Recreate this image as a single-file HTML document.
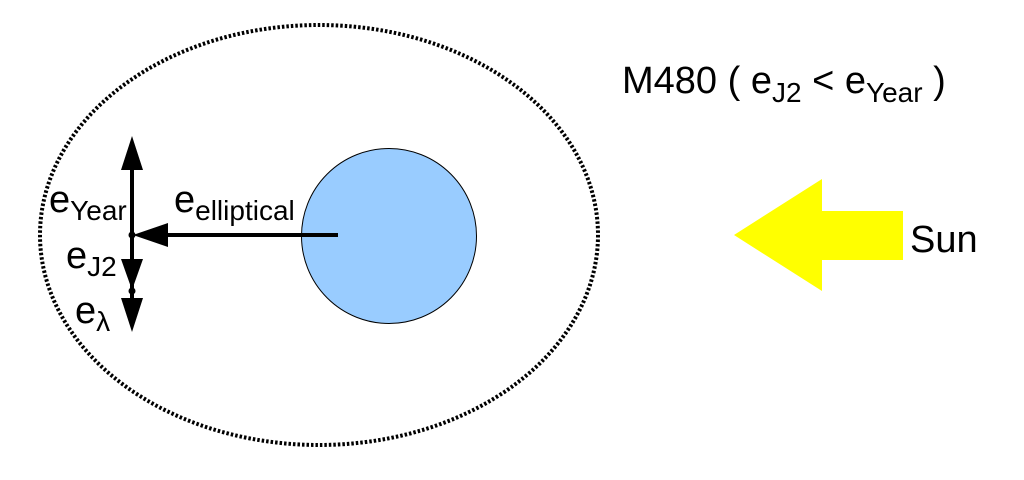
<!DOCTYPE html>
<html><head><meta charset="utf-8"><style>
html,body{margin:0;padding:0;background:#fff;}
svg{display:block}
text{font-family:"Liberation Sans",sans-serif;fill:#000}
</style></head><body>
<svg width="1024" height="480" viewBox="0 0 1024 480">
<ellipse cx="319" cy="235" rx="279" ry="210" fill="none" stroke="#000" stroke-width="4" stroke-dasharray="2.5,2"/>
<circle cx="389" cy="236" r="87.5" fill="#99ccff" stroke="#000" stroke-width="1"/>
<line x1="338" y1="235" x2="165" y2="235" stroke="#000" stroke-width="4"/>
<polygon points="133,235 168,223 168,247" fill="#000"/>
<line x1="132" y1="165" x2="132" y2="300" stroke="#000" stroke-width="4"/>
<polygon points="132,136 121,170 143,170" fill="#000"/>
<polygon points="132,290 121,259 143,259" fill="#000"/>
<polygon points="132,332 121,298 143,298" fill="#000"/>
<circle cx="132" cy="235" r="3.5" fill="#000"/>
<circle cx="132" cy="291" r="3.5" fill="#000"/>
<polygon points="734,235 822,179 822,211 903,211 903,260 822,260 822,291" fill="#ffff00"/>
<text x="910" y="252" font-size="38">Sun</text>
<text x="622" y="93" font-size="38">M480 ( e<tspan font-size="28" dy="9">J2</tspan><tspan dy="-9"> &lt; e</tspan><tspan font-size="28" dy="9">Year</tspan><tspan dy="-9"> )</tspan></text>
<text x="49" y="212" font-size="38">e<tspan font-size="28" dy="8">Year</tspan></text>
<text x="66" y="268" font-size="38">e<tspan font-size="28" dy="8">J2</tspan></text>
<text x="75" y="323" font-size="38">e<tspan font-size="28" dy="8">λ</tspan></text>
<text x="174" y="212" font-size="38">e<tspan font-size="28" dy="8">elliptical</tspan></text>
</svg>
</body></html>
